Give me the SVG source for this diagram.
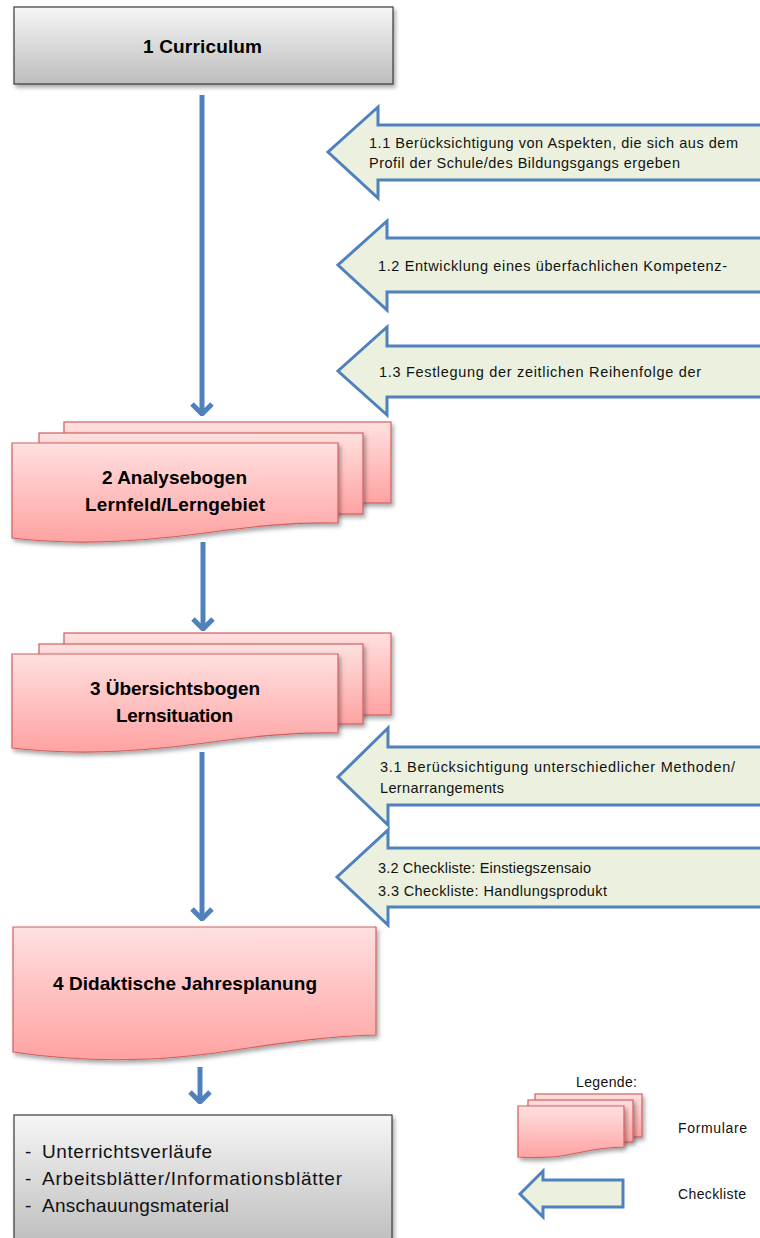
<svg xmlns="http://www.w3.org/2000/svg" width="760" height="1238" viewBox="0 0 760 1238">
<defs>
  <linearGradient id="gGray" x1="0" y1="0" x2="0" y2="1">
    <stop offset="0" stop-color="#F6F6F6"/>
    <stop offset="1" stop-color="#BDBDBD"/>
  </linearGradient>
  <linearGradient id="gPink" x1="0" y1="0" x2="0" y2="1">
    <stop offset="0" stop-color="#FFE0E0"/>
    <stop offset="1" stop-color="#FFA2A2"/>
  </linearGradient>
  <filter id="shadow" x="-10%" y="-10%" width="125%" height="130%">
    <feDropShadow dx="2" dy="3" stdDeviation="2" flood-color="#000" flood-opacity="0.35"/>
  </filter>
  <marker id="chev" markerUnits="userSpaceOnUse" viewBox="-14 -12 16 24" refX="0" refY="0" markerWidth="16" markerHeight="24" orient="auto">
    <path d="M-10,-10 L0,0 L-10,10" fill="none" stroke="#4F81BD" stroke-width="5" stroke-linejoin="miter"/>
  </marker>
</defs>
<style>
  .gray{fill:url(#gGray);stroke:#3A3A3A;stroke-width:1.2;filter:url(#shadow)}
  .pink{fill:url(#gPink);stroke:#D06060;stroke-width:1.2;filter:url(#shadow)}
  .chk{fill:#EBF1DE;stroke:#4F81BD;stroke-width:3}
  .conn{stroke:#4F81BD;stroke-width:5;fill:none;marker-end:url(#chev)}
  .title{font-family:"Liberation Sans",Arial,sans-serif;font-weight:bold;font-size:19px;fill:#000}
  .t{font-family:"Liberation Sans",Arial,sans-serif;font-size:14.5px;fill:#111}
  .tl{font-family:"Liberation Sans",Arial,sans-serif;font-size:19px;fill:#111}
  .tg{font-family:"Liberation Sans",Arial,sans-serif;font-size:14px;fill:#111}
</style>

<g id="connectors">
  <line class="conn" x1="202" y1="95" x2="202" y2="414"/>
  <line class="conn" x1="203" y1="542" x2="203" y2="629"/>
  <line class="conn" x1="202" y1="752" x2="202" y2="919"/>
  <line class="conn" x1="200" y1="1067" x2="200" y2="1102"/>
</g>

<g id="n1">
  <rect class="gray" x="14" y="7" width="379" height="77"/>
  <text class="title" x="143" y="53" textLength="119">1  Curriculum</text>
</g>

<g id="c11">
  <path class="chk" d="M770,125 H378 V107 L328,152 L378,198 V180 H770 Z"/>
  <text class="t" x="369" y="148" textLength="369">1.1  Berücksichtigung  von Aspekten,  die sich aus dem</text>
  <text class="t" x="369" y="168" textLength="311">Profil  der Schule/des  Bildungsgangs  ergeben</text>
</g>

<g id="c12">
  <path class="chk" d="M770,238 H387 V221 L338,265 L387,310 V292 H770 Z"/>
  <text class="t" x="378" y="271" textLength="349">1.2  Entwicklung  eines überfachlichen  Kompetenz-</text>
</g>

<g id="c13">
  <path class="chk" d="M770,346 H387 V327 L338,371 L387,415 V397 H770 Z"/>
  <text class="t" x="379" y="377" textLength="322">1.3  Festlegung  der zeitlichen  Reihenfolge  der</text>
</g>

<g id="n2">
  <rect class="pink" x="64" y="422" width="327" height="81"/>
  <rect class="pink" x="39" y="433" width="324" height="81"/>
  <path class="pink" d="M12,443 H338 V523 C290,522 250,527 205,533 C140,542 70,545 12,538 Z"/>
  <text class="title" x="102" y="484" textLength="145">2  Analysebogen</text>
  <text class="title" x="85" y="511" textLength="180">Lernfeld/Lerngebiet</text>
</g>

<g id="n3">
  <rect class="pink" x="64" y="633" width="327" height="82"/>
  <rect class="pink" x="39" y="644" width="324" height="80"/>
  <path class="pink" d="M12,654 H338 V733 C290,732 250,737 205,743 C140,752 70,755 12,748 Z"/>
  <text class="title" x="90" y="695" textLength="170">3  Übersichtsbogen</text>
  <text class="title" x="116" y="722" textLength="117">Lernsituation</text>
</g>

<g id="c31">
  <path class="chk" d="M770,747 H388 V728 L338,777 L388,825 V805 H770 Z"/>
  <text class="t" x="380" y="772" textLength="355">3.1  Berücksichtigung  unterschiedlicher  Methoden/</text>
  <text class="t" x="380" y="793" textLength="124">Lernarrangements</text>
</g>

<g id="c32">
  <path class="chk" d="M770,848 H388 V830 L337,877 L388,925 V907 H770 Z"/>
  <text class="t" x="378" y="873" textLength="213">3.2 Checkliste:  Einstiegszensaio</text>
  <text class="t" x="378" y="896" textLength="229">3.3 Checkliste:  Handlungsprodukt</text>
</g>

<g id="n4">
  <path class="pink" d="M13,927 H376 V1035 C320,1036 270,1045 215,1053 C150,1062 80,1062 13,1052 Z"/>
  <text class="title" x="53" y="990" textLength="264">4  Didaktische Jahresplanung</text>
</g>

<g id="n5">
  <rect class="gray" x="14" y="1115" width="378" height="130"/>
  <text class="tl" x="25" y="1158">-</text>
  <text class="tl" x="42" y="1158" textLength="170">Unterrichtsverläufe</text>
  <text class="tl" x="25" y="1185">-</text>
  <text class="tl" x="42" y="1185" textLength="300">Arbeitsblätter/Informationsblätter</text>
  <text class="tl" x="25" y="1212">-</text>
  <text class="tl" x="42" y="1212" textLength="187">Anschauungsmaterial</text>
</g>

<g id="legend">
  <text class="tg" x="576" y="1087" textLength="61">Legende:</text>
  <rect class="pink" x="535" y="1094" width="107" height="43"/>
  <rect class="pink" x="528" y="1100" width="105" height="42"/>
  <path class="pink" d="M518,1106 H624 V1147 C605,1147 590,1150 572,1154 C555,1158 535,1158 518,1157 Z"/>
  <text class="tg" x="678" y="1133" textLength="69">Formulare</text>
  <path class="chk" d="M623,1180 H543 V1171 L520,1194 L543,1217 V1207 H623 Z"/>
  <text class="tg" x="678" y="1199" textLength="68">Checkliste</text>
</g>
</svg>
